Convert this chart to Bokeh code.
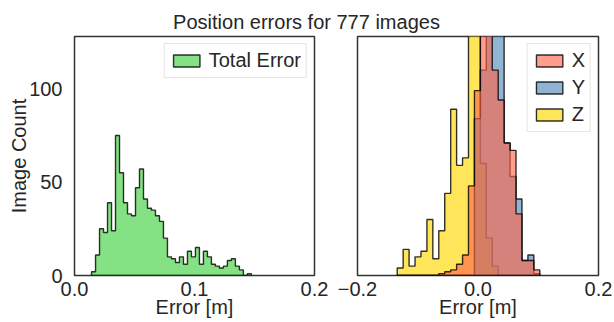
import numpy as np
from bokeh.plotting import figure
from bokeh.layouts import column, row
from bokeh.models import Label, Legend, LegendItem, FixedTicker, Range1d
from bokeh.embed import file_html
from bokeh.resources import INLINE

# ---------------- data ----------------
title_text = "Position errors for 777 images"
x_label_text = "Error [m]"
y_label_text = "Image Count"

# left panel: total error histogram (40 bins)
total_bin_start = 0.0142
total_bin_width = 0.00333
total_counts = [2, 11, 25, 23, 39, 24, 75, 55, 39, 33, 32, 47, 57, 41, 36, 35, 32, 29, 20, 10,
                9, 7, 10, 6, 13, 10, 15, 6, 13, 10, 6, 5, 4, 5, 8, 9, 5, 3, 0, 1]

# right panel: per-axis histograms (shared 24 bins)
axis_bin_start = -0.1341
axis_bin_width = 0.00986
x_counts = [0, 0, 0, 0, 0, 0, 0, 1, 2, 3, 6, 11, 48, 99, 135, 140, 110, 94, 71, 67, 33, 8, 8, 3]
y_counts = [0, 0, 0, 0, 0, 0, 0, 0, 0, 0, 0, 0, 0, 84, 110, 140, 160, 140, 71, 53, 41, 8, 11, 1]
z_counts = [4, 14, 5, 10, 13, 30, 9, 24, 44, 89, 59, 63, 150, 160, 60, 20, 5, 0, 0, 0, 0, 0, 0, 0]

left_ticks = [0.0, 0.1, 0.2]
left_tick_labels = ["0.0", "0.1", "0.2"]
right_ticks = [-0.2, 0.0, 0.2]
right_tick_labels = ["\u22120.2", "0.0", "0.2"]
y_ticks = [0, 50, 100]
y_max = 128

FONT = "Liberation Sans"
FS = "20px"
TXT = "#262626"


def step_outline(start, width, counts):
    edges = start + width * np.arange(len(counts) + 1)
    xs = [edges[0]]
    ys = [0]
    for i, c in enumerate(counts):
        xs += [edges[i], edges[i + 1]]
        ys += [c, c]
    xs.append(edges[-1])
    ys.append(0)
    return xs, ys


def style(p, ticks, labels, show_y):
    p.outline_line_color = "#333333"
    p.outline_line_width = 1.5
    p.xgrid.visible = False
    p.ygrid.visible = False
    for ax in (p.xaxis[0], p.yaxis[0]):
        ax.axis_line_color = None
        ax.major_tick_line_color = None
        ax.minor_tick_line_color = None
        ax.major_tick_out = 0
        ax.major_tick_in = 0
        ax.minor_tick_out = 0
        ax.minor_tick_in = 0
        ax.major_label_text_font = FONT
        ax.major_label_text_font_size = FS
        ax.major_label_text_color = TXT
        ax.axis_label_text_font = FONT
        ax.axis_label_text_font_size = FS
        ax.axis_label_text_font_style = "normal"
        ax.axis_label_text_color = TXT
    p.xaxis[0].ticker = FixedTicker(ticks=ticks)
    p.xaxis[0].major_label_overrides = {t: l for t, l in zip(ticks, labels)}
    p.xaxis[0].major_label_standoff = 6
    p.xaxis[0].axis_label = x_label_text
    p.xaxis[0].axis_label_standoff = -3
    p.yaxis[0].ticker = FixedTicker(ticks=y_ticks)
    p.yaxis[0].major_label_standoff = 12
    if show_y:
        p.yaxis[0].axis_label = y_label_text
        p.yaxis[0].axis_label_standoff = -4
    else:
        p.yaxis[0].visible = False


FRAME_H = 239
TOP = 2
BOTTOM = 47
TITLE_H = 34

# ---------------- left panel ----------------
p1 = figure(width=336, height=TOP + FRAME_H + BOTTOM, toolbar_location=None,
            output_backend="svg", x_range=Range1d(0.0, 0.2), y_range=Range1d(0, y_max),
            min_border_left=74, min_border_right=22, min_border_top=TOP, min_border_bottom=BOTTOM)
style(p1, left_ticks, left_tick_labels, True)
tx, ty = step_outline(total_bin_start, total_bin_width, total_counts)
r_tot = p1.patch(tx, ty, fill_color="limegreen", fill_alpha=0.6,
                 line_color="black", line_alpha=0.8, line_width=1.4)
leg1 = Legend(items=[LegendItem(label="Total Error", renderers=[r_tot])],
              location="top_right")
p1.add_layout(leg1)

# ---------------- right panel ----------------
p2 = figure(width=278, height=TOP + FRAME_H + BOTTOM, toolbar_location=None,
            output_backend="svg", x_range=Range1d(-0.2, 0.2), y_range=Range1d(0, y_max),
            min_border_left=21, min_border_right=16, min_border_top=TOP, min_border_bottom=BOTTOM)
style(p2, right_ticks, right_tick_labels, False)
zx, zy = step_outline(axis_bin_start, axis_bin_width, z_counts)
yx, yy = step_outline(axis_bin_start, axis_bin_width, y_counts)
xx, xy = step_outline(axis_bin_start, axis_bin_width, x_counts)
r_z = p2.patch(zx, zy, fill_color="gold", fill_alpha=0.65, line_color="black", line_alpha=0.8, line_width=1.4)
r_y = p2.patch(yx, yy, fill_color="steelblue", fill_alpha=0.6, line_color="black", line_alpha=0.8, line_width=1.4)
r_x = p2.patch(xx, xy, fill_color="tomato", fill_alpha=0.62, line_color="black", line_alpha=0.8, line_width=1.4)
leg2 = Legend(items=[LegendItem(label="X", renderers=[r_x]),
                     LegendItem(label="Y", renderers=[r_y]),
                     LegendItem(label="Z", renderers=[r_z])],
              location="top_right")
p2.add_layout(leg2)

for lg in (leg1, leg2):
    lg.label_text_font = FONT
    lg.label_text_font_size = FS
    lg.label_text_color = TXT
    lg.glyph_width = 33
    lg.glyph_height = 15
    lg.label_height = 20
    lg.label_width = 5
    lg.label_standoff = 6
    lg.padding = 5
    lg.spacing = 4
    lg.margin = 7
    lg.border_line_color = "#cccccc"
    lg.border_line_width = 1.5
    lg.background_fill_alpha = 0.8

# ---------------- title ----------------
pt = figure(width=614, height=TITLE_H, toolbar_location=None, output_backend="svg",
            x_range=Range1d(0, 1), y_range=Range1d(0, 1),
            min_border=0, min_border_left=0, min_border_right=0, min_border_top=0, min_border_bottom=0)
pt.xaxis.visible = False
pt.yaxis.visible = False
pt.xgrid.visible = False
pt.ygrid.visible = False
pt.outline_line_color = None
pt.add_layout(Label(x=306, y=13, x_units="screen", y_units="screen", text=title_text,
                    text_align="center", text_baseline="middle", text_font=FONT,
                    text_font_size=FS, text_color=TXT))

layout = column(pt, row(p1, p2))
open("out.html", "w").write(file_html(layout, INLINE))
